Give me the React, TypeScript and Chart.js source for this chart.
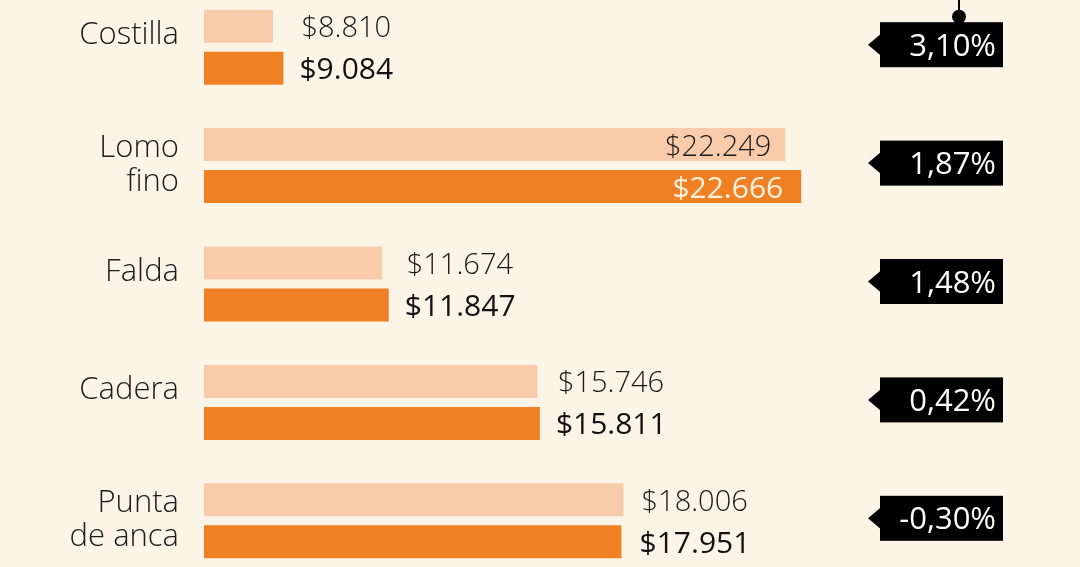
import React, { useEffect, useRef } from "react";
import { Chart, registerables } from "chart.js";

Chart.register(...registerables);

const categories: string[][] = [["Costilla"], ["Lomo", "fino"], ["Falda"], ["Cadera"], ["Punta", "de anca"]];
const previousPrices = [8810, 22249, 11674, 15746, 18006];
const currentPrices = [9084, 22666, 11847, 15811, 17951];
const changes = [3.1, 1.87, 1.48, 0.42, -0.3];

const BG = "#fdf4e8";
const LIGHT = "#f8cbaa";
const ORANGE = "#f08024";
const FONT = "'Open Sans', sans-serif";

const fmtMoney = (v: number) => "$" + String(v).replace(/\B(?=(\d{3})+(?!\d))/g, ".");
const fmtPct = (v: number) => v.toFixed(2).replace(".", ",") + "%";

const overlay = {
  id: "overlay",
  beforeDraw(chart: any) {
    const { ctx, width, height } = chart;
    ctx.save();
    ctx.fillStyle = BG;
    ctx.fillRect(0, 0, width, height);
    ctx.restore();
  },
  afterDatasetsDraw(chart: any) {
    const { ctx } = chart;
    const yScale = chart.scales.y;
    const m0 = chart.getDatasetMeta(0);
    const m1 = chart.getDatasetMeta(1);
    ctx.save();
    categories.forEach((lines, i) => {
      const cy = yScale.getPixelForValue(i);
      // category label
      ctx.fillStyle = "#1a1a1a";
      ctx.font = `300 31px ${FONT}`;
      ctx.textAlign = "right";
      ctx.textBaseline = "alphabetic";
      if (lines.length === 1) {
        ctx.fillText(lines[0], 179, cy - 3);
      } else {
        ctx.fillText(lines[0], 179, cy - 9);
        ctx.fillText(lines[1], 179, cy + 25);
      }
      // value labels
      const b0 = m0.data[i];
      const b1 = m1.data[i];
      const endMax = Math.max(b0.x, b1.x);
      ctx.font = `300 29px ${FONT}`;
      const w0 = ctx.measureText(fmtMoney(previousPrices[i])).width;
      if (endMax + 18 + w0 > 860) {
        ctx.textAlign = "right";
        ctx.fillStyle = "#1a1a1a";
        ctx.font = `300 29px ${FONT}`;
        ctx.fillText(fmtMoney(previousPrices[i]), b0.x - 14, b0.y + 11);
        ctx.fillStyle = "#fdf0dc";
        ctx.font = `400 30px ${FONT}`;
        ctx.fillText(fmtMoney(currentPrices[i]), b1.x - 18, b1.y + 11);
      } else {
        ctx.textAlign = "left";
        ctx.fillStyle = "#1a1a1a";
        ctx.font = `300 29px ${FONT}`;
        ctx.fillText(fmtMoney(previousPrices[i]), endMax + 18, b0.y + 11);
        ctx.fillStyle = "#111111";
        ctx.font = `500 30px ${FONT}`;
        ctx.fillText(fmtMoney(currentPrices[i]), endMax + 16, b1.y + 11);
      }
      // tag
      const ty = cy - 2.5;
      ctx.fillStyle = "#000";
      ctx.fillRect(880, ty - 22.5, 123, 45);
      ctx.beginPath();
      ctx.moveTo(881, ty - 11);
      ctx.lineTo(868, ty);
      ctx.lineTo(881, ty + 11);
      ctx.closePath();
      ctx.fill();
      if (i === 0) {
        const dotY = ty - 28;
        ctx.strokeStyle = "#000";
        ctx.fillStyle = "#000";
        ctx.lineWidth = 2;
        ctx.beginPath();
        ctx.moveTo(959, 0);
        ctx.lineTo(959, dotY);
        ctx.stroke();
        ctx.beginPath();
        ctx.arc(959, dotY, 7, 0, Math.PI * 2);
        ctx.fill();
      }
      ctx.fillStyle = "#ffffff";
      ctx.font = `400 31px ${FONT}`;
      ctx.textAlign = "right";
      ctx.fillText(fmtPct(changes[i]), 996, ty + 11);
    });
    ctx.restore();
  },
};

export default function App() {
  const ref = useRef<HTMLCanvasElement | null>(null);
  useEffect(() => {
    if (!ref.current) return;
    const chart = new Chart(ref.current, {
      type: "bar",
      data: {
        labels: categories.map((c) => c.join(" ")),
        datasets: [
          { data: previousPrices, backgroundColor: LIGHT, borderWidth: 0 },
          { data: currentPrices, backgroundColor: ORANGE, borderWidth: 0 },
        ],
      },
      options: {
        indexAxis: "y",
        animation: false,
        responsive: false,
        devicePixelRatio: 1,
        categoryPercentage: 84 / 118.4,
        barPercentage: 33 / 42,
        layout: { padding: { left: 204, right: 113.6, top: 0, bottom: 0 } },
        scales: {
          x: { type: "linear", min: 7000, max: 27000, display: false },
          y: { type: "category", display: false },
        },
        plugins: { legend: { display: false }, tooltip: { enabled: false } },
      } as any,
      plugins: [overlay],
    });
    return () => chart.destroy();
  }, []);
  return (
    <div
      style={{
        position: "fixed",
        left: 0,
        top: 0,
        width: 1080,
        height: 567,
        overflow: "hidden",
        background: BG,
      }}
    >
      <canvas
        ref={ref}
        width={1080}
        height={592}
        style={{ position: "absolute", left: 0, top: -12, width: 1080, height: 592 }}
      />
    </div>
  );
}
